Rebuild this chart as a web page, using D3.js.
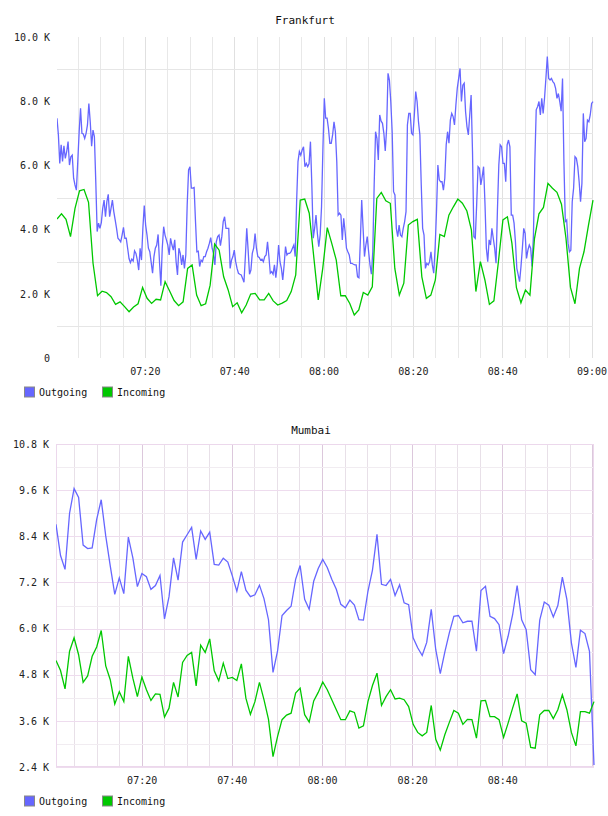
<!DOCTYPE html>
<html>
<head>
<meta charset="utf-8">
<script src="https://cdn.jsdelivr.net/npm/d3@7"></script>
<style>
  html, body { margin: 0; padding: 0; background: #fff; }
  svg { display: block; }
  text { font-family: "DejaVu Sans Mono", monospace; }
</style>
</head>
<body>
<svg id="chart" width="608" height="816"></svg>
<script>
// ---------------- DATA (values in thousands, "K") ----------------
const seriesNames = ["Outgoing", "Incoming"];
const seriesColors = ["#6666ff", "#00c800"];

// Frankfurt, 07:00:20 – 09:00:20
const frankfurtOutgoing = [
  7.47,6.95,6.06,6.64,6.12,6.61,6.22,6.43,6.74,6.01,
  6.27,6.32,5.60,5.39,5.23,6.12,7.05,7.78,7.00,6.98,
  6.84,7.00,7.26,7.93,7.36,6.60,7.10,6.90,5.49,3.94,
  4.20,4.04,4.22,4.66,4.92,4.40,4.87,5.10,4.40,4.66,
  4.92,4.56,4.30,4.04,3.73,3.68,3.62,3.83,4.07,3.73,
  3.73,3.42,3.10,2.97,3.08,3.02,3.34,3.26,3.05,2.74,
  3.42,3.05,4.04,4.75,4.14,3.83,3.42,3.31,2.98,2.64,
  3.16,3.42,3.52,3.85,3.00,2.25,3.42,4.09,3.83,3.68,
  3.52,3.21,3.73,3.52,3.36,3.68,3.00,2.59,3.42,3.26,
  2.90,3.21,2.79,3.21,4.77,5.86,5.96,5.29,5.29,5.31,
  4.25,3.31,3.33,2.85,3.05,3.00,3.16,3.16,3.31,3.42,
  3.57,3.75,3.42,3.26,2.90,3.62,3.78,3.83,3.50,3.78,
  4.25,4.40,4.04,4.04,4.04,2.79,3.05,3.16,3.36,3.00,
  2.79,2.64,2.61,2.59,2.48,2.36,3.16,4.04,3.36,2.61,
  2.74,3.26,3.42,3.88,3.42,3.16,3.13,3.05,3.08,3.00,
  3.16,3.21,3.62,3.16,2.64,2.69,2.61,2.90,2.50,2.90,
  3.52,3.00,2.79,2.43,2.90,3.47,3.21,3.26,3.26,3.31,
  3.42,3.52,3.16,4.87,6.12,6.43,6.32,6.48,6.58,5.96,
  6.06,5.96,6.06,6.74,5.39,3.73,4.04,4.45,3.88,3.47,
  3.83,4.71,6.53,8.09,7.47,7.47,7.15,6.69,6.69,6.95,
  7.36,7.05,6.12,4.45,4.51,4.45,3.68,4.35,3.94,3.42,
  3.31,3.21,2.95,2.95,2.92,2.90,2.90,2.53,2.50,3.62,
  4.92,4.04,3.16,3.52,3.78,3.31,2.90,2.61,3.31,5.39,
  7.05,6.84,6.17,7.57,7.38,7.31,7.00,6.45,7.15,8.87,
  8.66,7.99,7.05,5.18,5.08,4.04,3.78,4.14,3.83,3.78,
  4.04,4.25,4.56,7.26,7.62,7.62,7.00,6.95,7.57,8.30,
  7.99,7.36,6.95,5.39,4.04,3.83,2.79,2.95,2.90,3.00,
  3.31,2.90,2.64,3.42,4.56,6.01,5.55,5.49,5.49,5.23,
  5.60,6.64,7.05,6.69,7.41,7.62,7.52,7.26,7.88,8.40,
  8.71,9.02,7.99,8.50,8.56,7.67,7.21,6.95,7.57,8.19,
  6.43,3.78,3.73,4.77,5.96,5.91,5.39,5.65,5.96,4.82,
  3.42,3.00,3.68,3.52,4.04,3.73,3.42,2.95,4.61,6.01,
  6.64,6.58,6.06,6.06,5.49,6.64,6.79,6.58,4.45,4.45,
  4.20,3.62,2.79,2.59,2.38,2.85,3.42,4.04,3.88,3.10,
  3.36,3.52,3.42,2.85,3.83,6.12,7.73,7.83,7.99,7.57,
  8.09,7.62,8.09,8.71,9.39,8.71,8.66,8.71,8.61,8.56,
  8.40,8.09,8.24,7.99,7.69,8.71,6.12,4.25,4.30,3.57,
  3.31,3.36,4.87,5.29,6.27,6.22,5.96,5.49,4.87,5.44,
  7.62,6.74,6.84,7.41,7.36,7.57,7.93,7.99
];
const frankfurtIncoming = [
  4.33,4.49,4.32,3.78,4.66,5.21,5.25,4.85,2.95,1.94,
  2.08,2.04,1.91,1.67,1.75,1.60,1.44,1.59,1.69,2.20,
  1.86,1.70,1.83,1.81,2.38,2.09,1.79,1.63,1.75,2.79,
  2.90,1.96,1.63,1.69,2.27,3.55,3.36,2.53,2.12,1.60,
  1.72,1.41,1.65,1.99,2.01,1.81,1.81,2.01,1.78,1.65,
  1.71,1.79,2.07,2.59,4.92,4.95,4.51,3.16,1.81,2.79,
  4.06,3.57,3.05,1.94,1.94,1.70,1.34,1.50,2.04,1.96,
  2.22,4.97,5.16,4.90,4.82,2.79,1.96,2.33,4.14,4.25,
  4.32,2.53,1.86,1.96,2.43,3.85,3.78,4.45,4.71,4.95,
  4.82,4.58,3.99,2.07,3.00,2.43,1.67,1.78,3.00,4.30,
  4.40,3.57,2.19,1.72,2.12,1.96,3.71,4.49,4.69,5.44,
  5.29,5.16,4.79,3.73,2.20,1.69,2.79,3.31,4.14,4.92
];

// Mumbai, 07:01:00 – 09:00:20
const mumbaiOutgoing = [
  8.71,7.90,7.54,9.00,9.64,9.41,8.17,8.08,8.10,8.84,
  9.35,8.41,7.63,6.89,7.32,6.91,8.38,7.84,7.09,7.43,
  7.35,7.02,7.12,7.38,6.25,6.83,7.84,7.26,8.25,8.44,
  8.63,7.80,8.54,8.32,8.51,7.67,7.65,7.83,7.73,7.37,
  6.97,7.48,7.00,6.83,6.88,7.13,6.78,6.23,4.86,5.41,
  6.34,6.47,6.58,7.28,7.64,6.76,6.50,7.23,7.56,7.80,
  7.59,7.28,7.02,6.63,6.54,6.74,6.61,6.23,6.22,6.97,
  7.52,8.45,7.15,7.12,7.28,6.86,7.14,6.67,6.62,5.76,
  5.50,5.30,5.64,6.50,5.45,4.83,5.39,5.89,6.32,6.34,
  6.15,6.19,6.19,5.41,6.99,7.10,6.32,6.26,6.10,5.35,
  5.80,6.36,7.12,6.23,5.97,4.93,4.80,6.22,6.69,6.61,
  6.30,6.60,7.34,6.76,5.63,4.99,5.96,5.87,5.41,2.45
];
const mumbaiIncoming = [
  5.17,4.91,4.43,5.41,5.76,5.32,4.60,4.77,5.28,5.52,
  5.95,5.03,4.67,4.04,4.36,4.10,5.28,4.71,4.23,4.74,
  4.41,4.13,4.30,4.29,3.70,3.93,4.60,4.22,5.12,5.30,
  5.38,4.51,5.57,5.38,5.73,4.90,4.64,5.10,4.70,4.73,
  4.65,5.08,4.19,3.77,4.10,4.60,4.15,3.64,2.67,3.19,
  3.63,3.75,3.80,4.32,4.45,3.76,3.57,4.12,4.34,4.61,
  4.41,4.15,3.89,3.63,3.63,3.86,3.82,3.41,3.47,4.10,
  4.52,4.84,4.00,4.23,4.41,4.17,4.19,4.15,3.97,3.51,
  3.30,3.21,3.30,4.00,3.12,2.84,3.24,3.56,3.87,3.80,
  3.51,3.64,3.63,3.15,4.12,4.13,3.71,3.71,3.63,3.17,
  3.54,3.93,4.30,3.60,3.54,2.91,2.89,3.76,3.87,3.87,
  3.66,3.89,4.28,3.89,3.30,2.95,3.84,3.84,3.80,4.10
];

const frankfurtYTicks = [0, 2, 4, 6, 8, 10];
const frankfurtYGrid = [1, 3, 5, 7, 9];
const mumbaiYTicks = [2.4, 3.6, 4.8, 6.0, 7.2, 8.4, 9.6, 10.8];
const mumbaiYMinor = [3.0, 4.2, 5.4, 6.6, 7.8, 9.0, 10.2];
const frankfurtXTickLabels = ["07:20", "07:40", "08:00", "08:20", "08:40", "09:00"];
const mumbaiXTickLabels = ["07:20", "07:40", "08:00", "08:20", "08:40"];
const majorGridTimes = ["07:20", "07:40", "08:00", "08:20", "08:40", "09:00"];

// ---------------- DRAWING ----------------
const svg = d3.select("#chart");
const parseT = d3.timeParse("%H:%M:%S");
const fmtT = d3.timeFormat("%H:%M");

function sampleTimes(n, t0, t1) {
  return d3.range(n).map(i => new Date(+t0 + (t1 - t0) * i / (n - 1)));
}

function drawChart(cfg) {
  const g = svg.append("g");
  const x = d3.scaleTime().domain([cfg.t0, cfg.t1]).range([cfg.left, cfg.right]);
  const y = d3.scaleLinear().domain(cfg.yDomain).range([cfg.bottom, cfg.top]);

  // vertical grid (every 5 minutes)
  const vTicks = d3.timeMinute.every(5).range(cfg.t0, new Date(+cfg.t1 + 1));
  const majorSet = new Set(majorGridTimes);
  g.append("g").selectAll("line").data(vTicks).join("line")
    .attr("x1", d => Math.round(x(d)) + 0.5).attr("x2", d => Math.round(x(d)) + 0.5)
    .attr("y1", cfg.top).attr("y2", cfg.bottom)
    .attr("stroke", d => majorSet.has(fmtT(d)) ? cfg.vMajorColor : cfg.vMinorColor)
    .attr("stroke-width", 1);

  // horizontal grid
  g.append("g").selectAll("line").data(cfg.hMinor).join("line")
    .attr("x1", cfg.left).attr("x2", cfg.right)
    .attr("y1", d => Math.round(y(d)) + 0.5).attr("y2", d => Math.round(y(d)) + 0.5)
    .attr("stroke", cfg.hMinorColor);
  if (cfg.hMajor) {
    g.append("g").selectAll("line").data(cfg.hMajor).join("line")
      .attr("x1", cfg.left).attr("x2", cfg.right)
      .attr("y1", d => Math.round(y(d)) + 0.5).attr("y2", d => Math.round(y(d)) + 0.5)
      .attr("stroke", cfg.hMajorColor);
  }
  if (cfg.border) {
    g.append("rect")
      .attr("x", cfg.left + 0.5).attr("y", cfg.top + 0.5)
      .attr("width", cfg.right - cfg.left - 1).attr("height", cfg.bottom - cfg.top - 1)
      .attr("fill", "none").attr("stroke", cfg.border);
  }

  // y axis labels
  const yAxis = d3.axisLeft(y).tickValues(cfg.yTicks).tickSize(0).tickPadding(0)
    .tickFormat(cfg.yFormat);
  const ya = g.append("g").attr("transform", `translate(${cfg.left - 7},0)`).call(yAxis);
  ya.select(".domain").remove();
  ya.selectAll("text").attr("font-family", "DejaVu Sans Mono").attr("font-size", 10)
    .attr("fill", "#222");

  // x axis labels
  const xTickDates = cfg.xLabels.map(s => parseT(s + ":00"));
  const xAxis = d3.axisBottom(x).tickValues(xTickDates).tickSize(0).tickPadding(0)
    .tickFormat(fmtT);
  const xa = g.append("g").attr("transform", `translate(0,${cfg.bottom + 10})`).call(xAxis);
  xa.select(".domain").remove();
  xa.selectAll("text").attr("font-family", "DejaVu Sans Mono").attr("font-size", 10)
    .attr("fill", "#222");

  // lines
  const clipId = "clip" + cfg.id;
  svg.append("clipPath").attr("id", clipId).append("rect")
    .attr("x", cfg.left).attr("y", cfg.top - 2)
    .attr("width", cfg.right - cfg.left + 1).attr("height", cfg.bottom - cfg.top + 4);
  cfg.series.forEach((vals, i) => {
    const ts = sampleTimes(vals.length, cfg.t0, cfg.t1);
    const line = d3.line().x((d, j) => x(ts[j])).y(d => y(d));
    g.append("path").datum(vals)
      .attr("d", line)
      .attr("fill", "none")
      .attr("stroke", seriesColors[i])
      .attr("stroke-width", 1.3)
      .attr("stroke-linejoin", "miter")
      .attr("clip-path", `url(#${clipId})`);
  });

  // title
  g.append("text").attr("x", cfg.titleX).attr("y", cfg.titleY)
    .attr("text-anchor", "middle").attr("font-size", 11).attr("fill", "#111")
    .text(cfg.title);

  // legend
  const lg = g.append("g").attr("transform", `translate(24,${cfg.legendY})`);
  seriesNames.forEach((name, i) => {
    const ox = i === 0 ? 0 : 78;
    lg.append("rect").attr("x", ox + 0.5).attr("y", 0.5).attr("width", 10).attr("height", 10)
      .attr("fill", seriesColors[i]).attr("stroke", "#888");
    lg.append("text").attr("x", ox + 15).attr("y", 9)
      .attr("font-size", 10).attr("fill", "#111").text(name);
  });
}

drawChart({
  id: "F", title: "Frankfurt", titleX: 305, titleY: 24,
  left: 57, right: 593, top: 37, bottom: 358,
  t0: parseT("07:00:20"), t1: parseT("09:00:20"),
  yDomain: [0, 10],
  yTicks: frankfurtYTicks,
  yFormat: d => d === 0 ? "0" : d.toFixed(1) + " K",
  xLabels: frankfurtXTickLabels,
  hMinor: frankfurtYGrid, hMinorColor: "#e6e6e6",
  vMinorColor: "#e8e8e8", vMajorColor: "#e0e0e0",
  border: null,
  series: [frankfurtOutgoing, frankfurtIncoming],
  legendY: 386.5
});

drawChart({
  id: "M", title: "Mumbai", titleX: 311, titleY: 434,
  left: 56, right: 594, top: 444, bottom: 767,
  t0: parseT("07:01:00"), t1: parseT("09:00:20"),
  yDomain: [2.4, 10.8],
  yTicks: mumbaiYTicks,
  yFormat: d => d.toFixed(1) + " K",
  xLabels: mumbaiXTickLabels,
  hMinor: mumbaiYMinor, hMinorColor: "#f1ecf1",
  hMajor: mumbaiYTicks, hMajorColor: "#eedcee",
  vMinorColor: "#e8e0e8", vMajorColor: "#dcc8dc",
  border: "#ecd8ec",
  series: [mumbaiOutgoing, mumbaiIncoming],
  legendY: 795.5
});
</script>
</body>
</html>
